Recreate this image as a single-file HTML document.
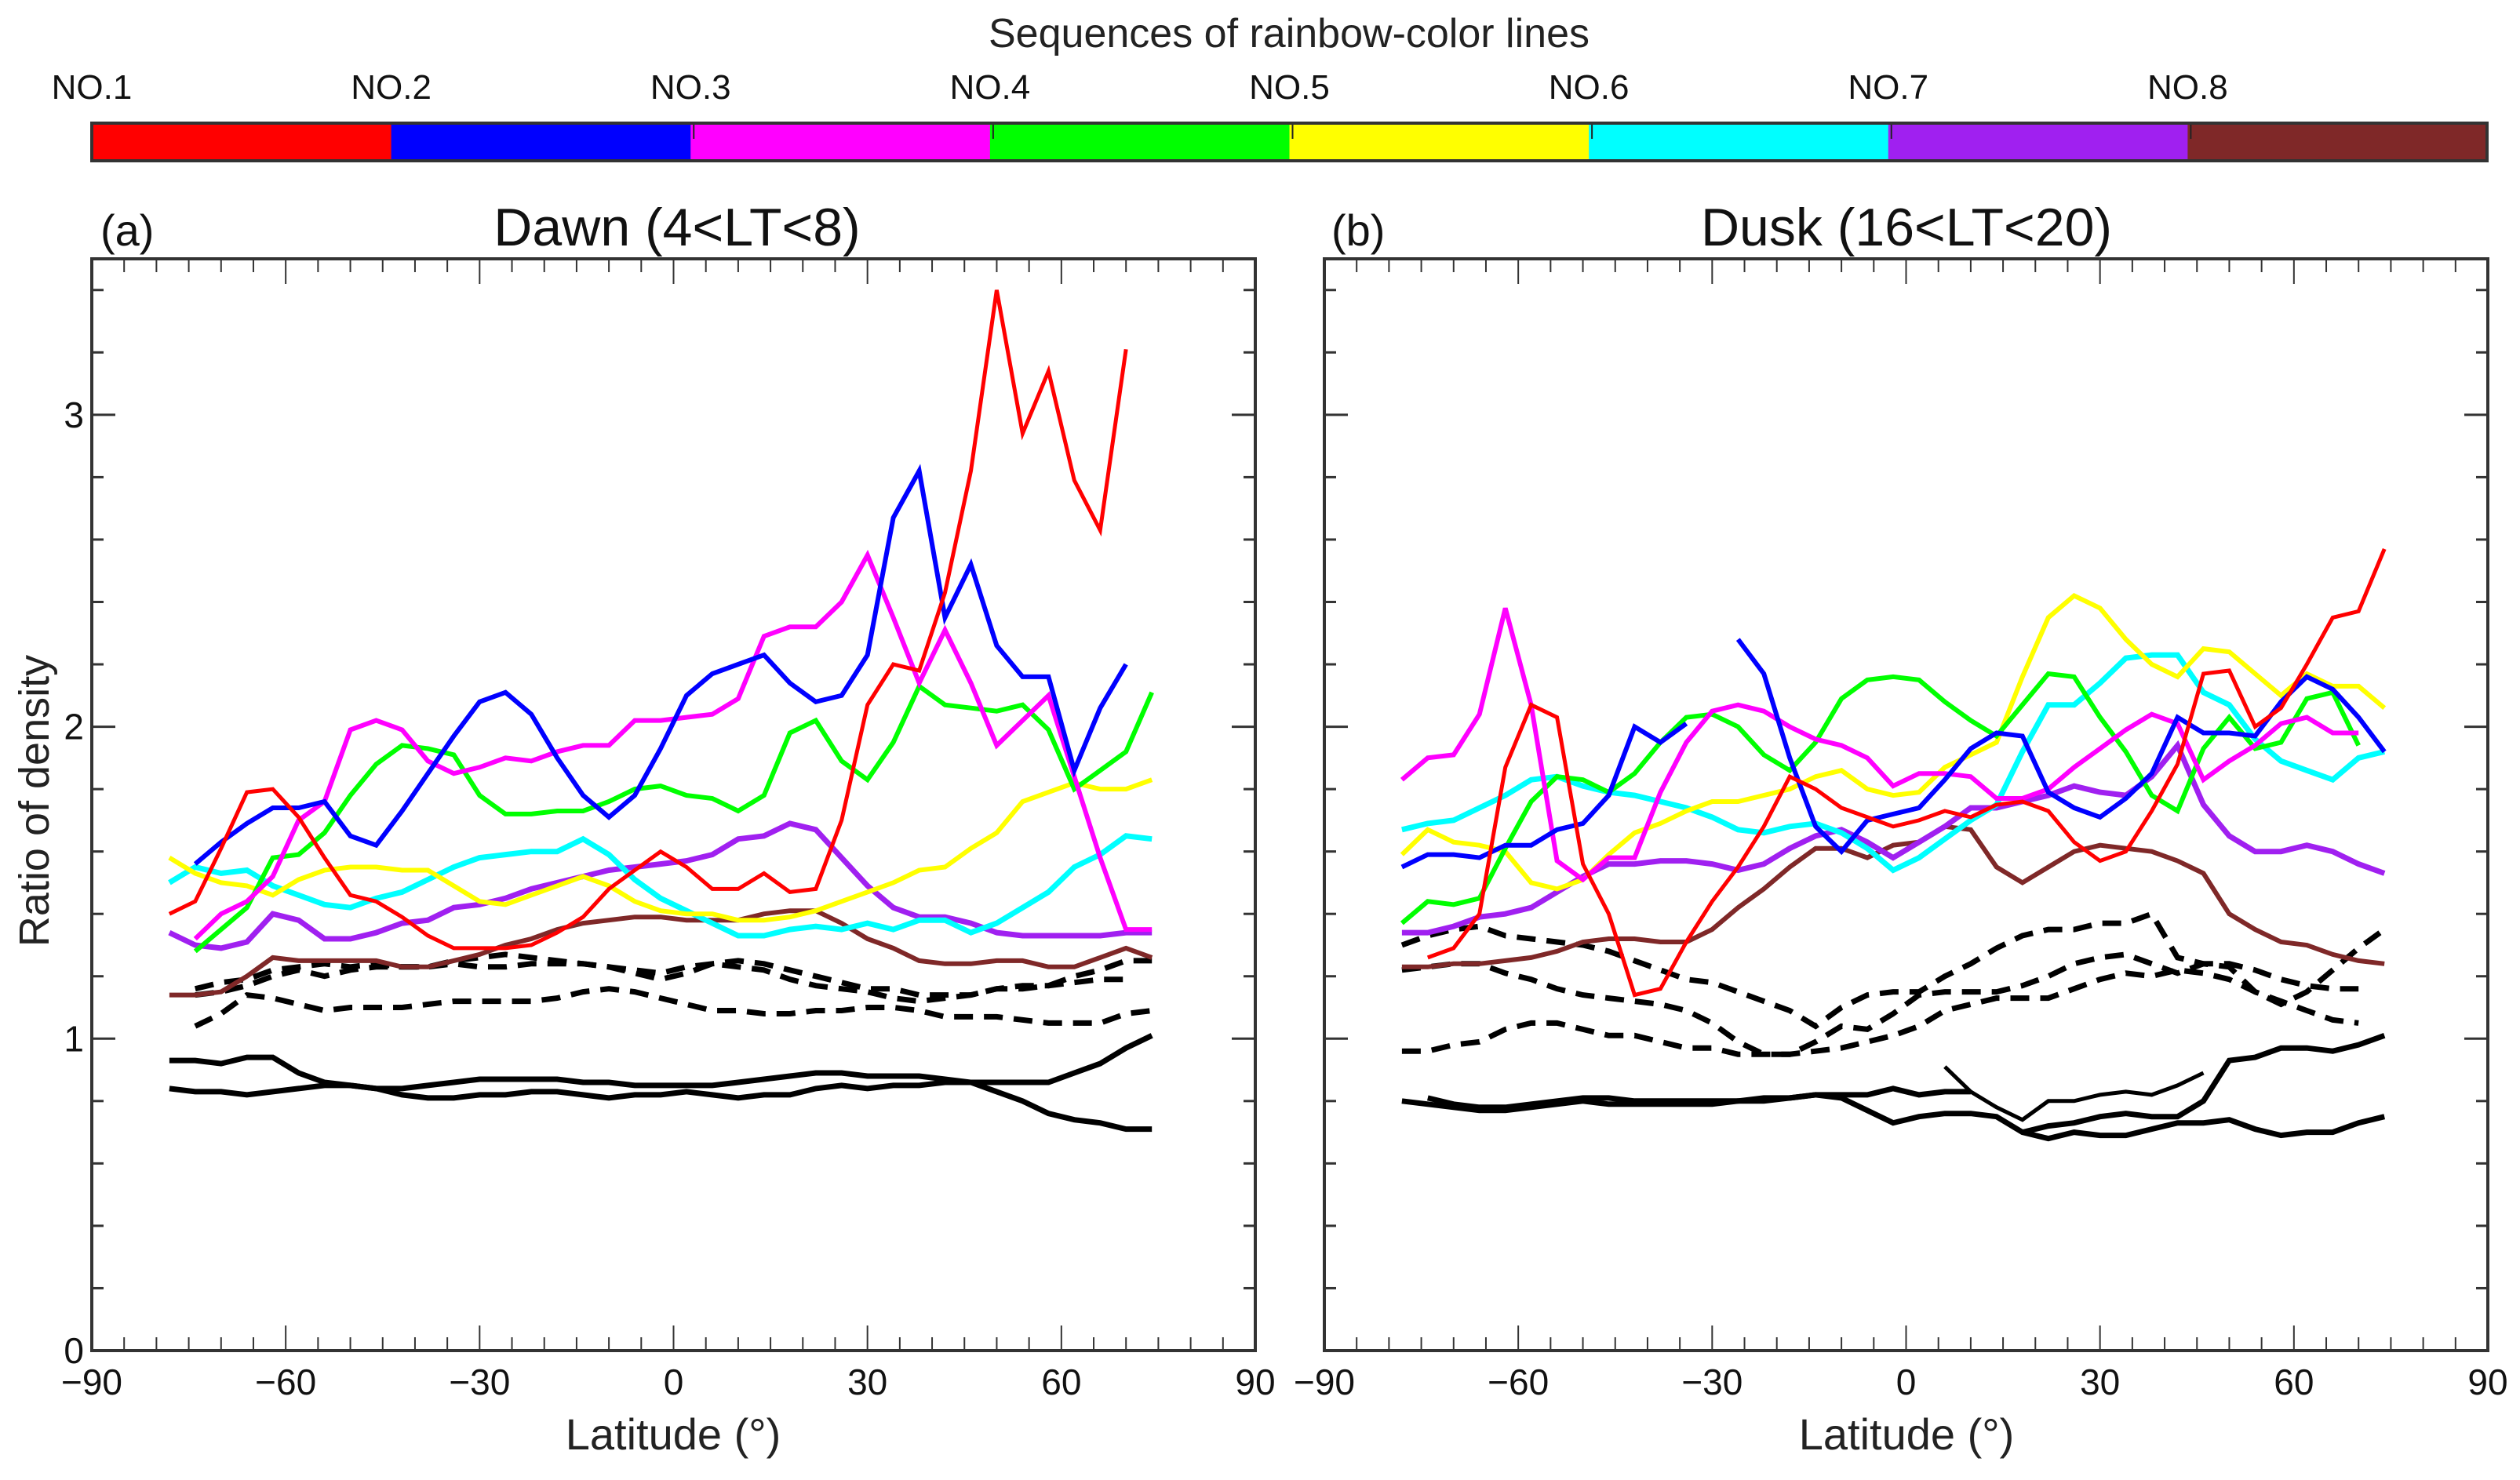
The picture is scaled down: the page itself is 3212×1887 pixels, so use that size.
<!DOCTYPE html>
<html><head><meta charset="utf-8">
<style>
html,body{margin:0;padding:0;background:#fff;}
svg{display:block;font-family:"Liberation Sans",Arial,sans-serif;}
</style></head>
<body>
<svg id="fig" width="3212" height="1887" viewBox="0 0 3212 1887" xmlns="http://www.w3.org/2000/svg">
<rect x="0" y="0" width="3212" height="1887" fill="#fff"/>
<text x="1643" y="60" font-size="52" text-anchor="middle" fill="#222">Sequences of rainbow-color lines</text>
<g id="colorbar"></g>
<g id="panelA"></g>
<g id="panelB"></g>
<text x="128" y="313" font-size="56" fill="#111">(a)</text>
<text x="863" y="313" font-size="68" text-anchor="middle" fill="#111">Dawn (4&lt;LT&lt;8)</text>
<text x="1697" y="313" font-size="56" fill="#111">(b)</text>
<text x="2430" y="313" font-size="68" text-anchor="middle" fill="#111">Dusk (16&lt;LT&lt;20)</text>
<text x="0" y="0" font-size="54" text-anchor="middle" fill="#222" transform="translate(62,1021) rotate(-90)">Ratio of density</text>
<text x="858" y="1848" font-size="56" text-anchor="middle" fill="#222">Latitude (°)</text>
<text x="2430" y="1848" font-size="56" text-anchor="middle" fill="#222">Latitude (°)</text>
</svg>
<script>
const lats=[-78,-74,-70,-66,-62,-58,-54,-50,-46,-42,-38,-34,-30,-26,-22,-18,-14,-10,-6,-2,2,6,10,14,18,22,26,30,34,38,42,46,50,54,58,62,66,70,74];
const xTicks=[-90,-60,-30,0,30,60,90];
const xTickLabels=["\u221290","\u221260","\u221230","0","30","60","90"];
const yTicks=[0,1,2,3];
const yTickLabels=["0","1","2","3"];
const seqLabels=["NO.1","NO.2","NO.3","NO.4","NO.5","NO.6","NO.7","NO.8"];
const seqColors=["#ff0000","#0000ff","#ff00ff","#00ff00","#ffff00","#00ffff","#a020f0","#7f2828"];

// Panel (a) Dawn
const aRed=[1.40,1.44,1.61,1.79,1.80,1.71,1.58,1.46,1.44,1.39,1.33,1.29,1.29,1.29,1.30,1.34,1.39,1.48,1.54,1.60,1.55,1.48,1.48,1.53,1.47,1.48,1.70,2.07,2.20,2.18,2.43,2.82,3.40,2.94,3.14,2.79,2.63,3.21,null];
const aBlue=[null,1.56,1.63,1.69,1.74,1.74,1.76,1.65,1.62,1.73,1.85,1.97,2.08,2.11,2.04,1.90,1.78,1.71,1.78,1.93,2.10,2.17,2.20,2.23,2.14,2.08,2.10,2.23,2.67,2.82,2.35,2.52,2.26,2.16,2.16,1.86,2.06,2.20,null];
const aMagenta=[null,1.32,1.40,1.44,1.52,1.70,1.76,1.99,2.02,1.99,1.89,1.85,1.87,1.90,1.89,1.92,1.94,1.94,2.02,2.02,2.03,2.04,2.09,2.29,2.32,2.32,2.40,2.55,2.35,2.14,2.31,2.14,1.94,2.02,2.10,1.84,1.58,1.35,1.35];
const aGreen=[null,1.28,1.35,1.42,1.58,1.59,1.66,1.78,1.88,1.94,1.93,1.91,1.78,1.72,1.72,1.73,1.73,1.76,1.80,1.81,1.78,1.77,1.73,1.78,1.98,2.02,1.89,1.83,1.95,2.13,2.07,2.06,2.05,2.07,1.99,1.80,1.86,1.92,2.11];
const aYellow=[1.58,1.53,1.50,1.49,1.46,1.51,1.54,1.55,1.55,1.54,1.54,1.49,1.44,1.43,1.46,1.49,1.52,1.49,1.44,1.41,1.40,1.40,1.38,1.38,1.39,1.41,1.44,1.47,1.50,1.54,1.55,1.61,1.66,1.76,1.79,1.82,1.80,1.80,1.83];
const aCyan=[1.50,1.55,1.53,1.54,1.49,1.46,1.43,1.42,1.45,1.47,1.51,1.55,1.58,1.59,1.60,1.60,1.64,1.59,1.51,1.45,1.41,1.37,1.33,1.33,1.35,1.36,1.35,1.37,1.35,1.38,1.38,1.34,1.37,1.42,1.47,1.55,1.59,1.65,1.64];
const aPurple=[1.34,1.30,1.29,1.31,1.40,1.38,1.32,1.32,1.34,1.37,1.38,1.42,1.43,1.45,1.48,1.50,1.52,1.54,1.55,1.56,1.57,1.59,1.64,1.65,1.69,1.67,1.58,1.49,1.42,1.39,1.39,1.37,1.34,1.33,1.33,1.33,1.33,1.34,1.34];
const aBrown=[1.14,1.14,1.15,1.20,1.26,1.25,1.25,1.25,1.25,1.23,1.23,1.25,1.27,1.30,1.32,1.35,1.37,1.38,1.39,1.39,1.38,1.38,1.38,1.40,1.41,1.41,1.37,1.32,1.29,1.25,1.24,1.24,1.25,1.25,1.23,1.23,1.26,1.29,1.26];
const aDash1=[null,1.16,1.18,1.19,1.22,1.23,1.24,1.23,1.24,1.23,1.23,1.25,1.26,1.27,1.26,1.25,1.24,1.23,1.22,1.21,1.23,1.24,1.25,1.24,1.22,1.20,1.18,1.16,1.16,1.14,1.14,1.14,1.16,1.16,1.17,1.20,1.22,1.25,1.25];
const aDash2=[null,1.14,1.15,1.17,1.20,1.22,1.20,1.22,1.23,1.23,1.23,1.24,1.23,1.23,1.24,1.24,1.24,1.23,1.21,1.19,1.21,1.24,1.23,1.22,1.19,1.17,1.16,1.15,1.13,1.12,1.13,1.14,1.16,1.17,1.17,1.18,1.19,1.19,null];
const aDash3=[null,1.04,1.08,1.14,1.13,1.11,1.09,1.10,1.10,1.10,1.11,1.12,1.12,1.12,1.12,1.13,1.15,1.16,1.15,1.13,1.11,1.09,1.09,1.08,1.08,1.09,1.09,1.10,1.10,1.09,1.07,1.07,1.07,1.06,1.05,1.05,1.05,1.08,1.09];
const aSolid1=[0.93,0.93,0.92,0.94,0.94,0.89,0.86,0.85,0.84,0.84,0.85,0.86,0.87,0.87,0.87,0.87,0.86,0.86,0.85,0.85,0.85,0.85,0.86,0.87,0.88,0.89,0.89,0.88,0.88,0.88,0.87,0.86,0.83,0.80,0.76,0.74,0.73,0.71,0.71];
const aSolid2=[0.84,0.83,0.83,0.82,0.83,0.84,0.85,0.85,0.84,0.82,0.81,0.81,0.82,0.82,0.83,0.83,0.82,0.81,0.82,0.82,0.83,0.82,0.81,0.82,0.82,0.84,0.85,0.84,0.85,0.85,0.86,0.86,0.86,0.86,0.86,0.89,0.92,0.97,1.01];

// Panel (b) Dusk
const bRed=[null,1.26,1.29,1.40,1.87,2.07,2.03,1.56,1.40,1.14,1.16,1.31,1.44,1.55,1.68,1.84,1.80,1.74,1.71,1.68,1.70,1.73,1.71,1.75,1.76,1.73,1.63,1.57,1.60,1.73,1.88,2.17,2.18,2.00,2.06,2.20,2.35,2.37,2.57];
const bBlue=[1.55,1.59,1.59,1.58,1.62,1.62,1.67,1.69,1.78,2.00,1.95,2.01,null,2.28,2.17,1.90,1.68,1.60,1.70,1.72,1.74,1.83,1.93,1.98,1.97,1.79,1.74,1.71,1.77,1.85,2.03,1.98,1.98,1.97,2.08,2.16,2.12,2.03,1.92];
const bMagenta=[1.83,1.90,1.91,2.04,2.38,2.07,1.57,1.51,1.58,1.58,1.79,1.95,2.05,2.07,2.05,2.00,1.96,1.94,1.90,1.81,1.85,1.85,1.84,1.77,1.77,1.80,1.87,1.93,1.99,2.04,2.01,1.83,1.89,1.94,2.01,2.03,1.98,1.98,null];
const bGreen=[1.37,1.44,1.43,1.45,1.61,1.76,1.84,1.83,1.79,1.85,1.95,2.03,2.04,2.00,1.91,1.86,1.95,2.09,2.15,2.16,2.15,2.08,2.02,1.97,2.07,2.17,2.16,2.03,1.92,1.78,1.73,1.93,2.03,1.93,1.95,2.09,2.11,1.94,null];
const bYellow=[1.59,1.67,1.63,1.62,1.60,1.50,1.48,1.51,1.59,1.66,1.69,1.73,1.76,1.76,1.78,1.80,1.84,1.86,1.80,1.78,1.79,1.87,1.91,1.95,2.16,2.35,2.42,2.38,2.28,2.20,2.16,2.25,2.24,2.17,2.10,2.17,2.13,2.13,2.06];
const bCyan=[1.67,1.69,1.70,1.74,1.78,1.83,1.84,1.81,1.79,1.78,1.76,1.74,1.71,1.67,1.66,1.68,1.69,1.66,1.61,1.54,1.58,1.64,1.70,1.75,1.92,2.07,2.07,2.14,2.22,2.23,2.23,2.11,2.07,1.96,1.89,1.86,1.83,1.90,1.92];
const bPurple=[1.34,1.34,1.36,1.39,1.40,1.42,1.47,1.52,1.56,1.56,1.57,1.57,1.56,1.54,1.56,1.61,1.65,1.67,1.63,1.58,1.63,1.68,1.74,1.74,1.76,1.78,1.81,1.79,1.78,1.84,1.94,1.75,1.65,1.60,1.60,1.62,1.60,1.56,1.53];
const bBrown=[1.23,1.23,1.24,1.24,1.25,1.26,1.28,1.31,1.32,1.32,1.31,1.31,1.35,1.42,1.48,1.55,1.61,1.61,1.58,1.62,1.63,1.68,1.67,1.55,1.50,1.55,1.60,1.62,1.61,1.60,1.57,1.53,1.40,1.35,1.31,1.30,1.27,1.25,1.24];
const bDash1=[1.30,1.33,1.35,1.36,1.33,1.32,1.31,1.30,1.28,1.25,1.22,1.19,1.18,1.15,1.12,1.09,1.04,1.10,1.14,1.15,1.15,1.20,1.24,1.29,1.33,1.35,1.35,1.37,1.37,1.40,1.26,1.24,1.24,1.22,1.19,1.17,1.16,1.16,null];
const bDash2=[1.22,1.23,1.24,1.24,1.21,1.19,1.16,1.14,1.13,1.12,1.11,1.09,1.05,0.99,0.95,0.95,0.99,1.04,1.03,1.08,1.14,1.15,1.15,1.15,1.17,1.20,1.24,1.26,1.27,1.24,1.21,1.24,1.23,1.15,1.11,1.15,1.22,1.29,1.35];
const bDash3=[0.96,0.96,0.98,0.99,1.03,1.05,1.05,1.03,1.01,1.01,0.99,0.97,0.97,0.95,0.95,0.95,0.96,0.97,0.99,1.01,1.04,1.09,1.11,1.13,1.13,1.13,1.16,1.19,1.21,1.20,1.22,1.21,1.19,1.15,1.12,1.09,1.06,1.05,null];
const bSolid1=[0.80,0.79,0.78,0.77,0.77,0.78,0.79,0.80,0.79,0.79,0.79,0.79,0.79,0.80,0.80,0.81,0.82,0.81,0.77,0.73,0.75,0.76,0.76,0.75,0.70,0.68,0.70,0.69,0.69,0.71,0.73,0.73,0.74,0.71,0.69,0.70,0.70,0.73,0.75];
const bSolid2=[null,0.81,0.79,0.78,0.78,0.79,0.80,0.81,0.81,0.80,0.80,0.80,0.80,0.80,0.81,0.81,0.82,0.82,0.82,0.84,0.82,0.83,0.83,null,null,null,null,null,null,null,null,null,null,null,null,null,null,null,null];
const bSolid3=[null,null,null,null,null,null,null,null,null,null,null,null,null,null,null,null,null,null,null,null,null,0.91,0.83,0.78,0.74,0.80,0.80,0.82,0.83,0.82,0.85,0.89,null,null,null,null,null,null,null];
const bSolid4=[null,null,null,null,null,null,null,null,null,null,null,null,null,null,null,null,null,null,null,null,null,null,null,null,0.70,0.72,0.73,0.75,0.76,0.75,0.75,0.80,0.93,0.94,0.97,0.97,0.96,0.98,1.01];

const NS="http://www.w3.org/2000/svg";
function mk(tag,attrs,parent){const e=document.createElementNS(NS,tag);for(const k in attrs)e.setAttribute(k,attrs[k]);parent.appendChild(e);return e;}

const PT=330,PB=1722,YMAX=3.5;
function yScale(v){return PB-(v/YMAX)*(PB-PT);}
function xScaleFor(x0,x1){return function(l){return x0+(l+90)/180*(x1-x0);};}

// Colorbar
const cb=document.getElementById('colorbar');
const CB0=117,CB1=3170,CBT=157,CBB=205;
const segW=(CB1-CB0)/seqColors.length;
seqColors.forEach(function(c,i){
  const r=mk('rect',{x:CB0+i*segW,y:CBT,width:segW+0.5,height:CBB-CBT,fill:c},cb);
  
  
  const t=mk('text',{x:CB0+i*segW,y:126,'font-size':44,'text-anchor':'middle',fill:'#111'},cb);
  t.textContent=seqLabels[i];
  
  
  if(i>1){const tk=mk('line',{x1:CB0+i*segW+4,x2:CB0+i*segW+4,y1:CBT,y2:CBT+20,stroke:'#222','stroke-width':2},cb);
    
    }
});
const cbb=mk('rect',{x:CB0,y:CBT,width:CB1-CB0,height:CBB-CBT,fill:'none',stroke:'#333','stroke-width':4},cb);



function drawPanel(g,x0,x1,series,showY){
  const xs=xScaleFor(x0,x1);
  series.forEach(function(s){
    let segs=[],cur=[];
    s.data.forEach(function(v,i){
      if(v===null){if(cur.length)segs.push(cur);cur=[];}
      else cur.push(xs(lats[i]).toFixed(1)+','+yScale(v).toFixed(1));
    });
    if(cur.length)segs.push(cur);
    segs.forEach(function(pts){
      const p=mk('polyline',{points:pts.join(' '),fill:'none',stroke:s.color,'stroke-width':s.w,'stroke-linejoin':'miter','stroke-linecap':'butt'},g);
      if(s.dash)p.setAttribute('stroke-dasharray',s.dash);
      
      
    });
  });
  for(let l=-90;l<=90;l+=5){
    const major=(l%30===0);
    const len=major?32:17;
    const X=xs(l);
    const t1=mk('line',{x1:X,x2:X,y1:PB,y2:PB-len,stroke:'#333','stroke-width':2},g);
    
    
    const t2=mk('line',{x1:X,x2:X,y1:PT,y2:PT+len,stroke:'#333','stroke-width':2},g);
    
    
  }
  xTicks.forEach(function(l,i){
    const t=mk('text',{x:xs(l),y:1778,'font-size':46,'text-anchor':'middle',fill:'#111'},g);
    t.textContent=xTickLabels[i];
    
    
  });
  for(let k=1;k<=17;k++){
    const v=k*0.2;
    const major=(k%5===0);
    const len=major?30:15;
    const Y=yScale(v);
    const t1=mk('line',{x1:x0,x2:x0+len,y1:Y,y2:Y,stroke:'#333','stroke-width':3},g);
    
    
    const t2=mk('line',{x1:x1,x2:x1-len,y1:Y,y2:Y,stroke:'#333','stroke-width':3},g);
    
    
  }
  if(showY){
    yTicks.forEach(function(v,i){
      const t=mk('text',{x:x0-10,y:yScale(v)+16,'font-size':46,'text-anchor':'end',fill:'#111'},g);
      t.textContent=yTickLabels[i];
      
      
    });
  }
  const fr=mk('rect',{x:x0,y:PT,width:x1-x0,height:PB-PT,fill:'none',stroke:'#333','stroke-width':4},g);
  
  
}

const DASH='24 14';
drawPanel(document.getElementById('panelA'),117,1600,[
  {name:'dawn-black-solid-1',data:aSolid1,color:'#000',w:7},
  {name:'dawn-black-solid-2',data:aSolid2,color:'#000',w:7},
  {name:'dawn-black-dashed-1',data:aDash1,color:'#000',w:7,dash:DASH},
  {name:'dawn-black-dashed-2',data:aDash2,color:'#000',w:7,dash:DASH},
  {name:'dawn-black-dashed-3',data:aDash3,color:'#000',w:7,dash:DASH},
  {name:'dawn-no8-brown',data:aBrown,color:seqColors[7],w:6},
  {name:'dawn-no7-purple',data:aPurple,color:seqColors[6],w:7},
  {name:'dawn-no6-cyan',data:aCyan,color:seqColors[5],w:7},
  {name:'dawn-no5-yellow',data:aYellow,color:seqColors[4],w:6},
  {name:'dawn-no4-green',data:aGreen,color:seqColors[3],w:6},
  {name:'dawn-no3-magenta',data:aMagenta,color:seqColors[2],w:6},
  {name:'dawn-no2-blue',data:aBlue,color:seqColors[1],w:6},
  {name:'dawn-no1-red',data:aRed,color:seqColors[0],w:5}
],true);
drawPanel(document.getElementById('panelB'),1688,3171,[
  {name:'dusk-black-solid-1',data:bSolid1,color:'#000',w:7},
  {name:'dusk-black-solid-2',data:bSolid2,color:'#000',w:7},
  {name:'dusk-black-solid-3',data:bSolid3,color:'#000',w:5},
  {name:'dusk-black-solid-4',data:bSolid4,color:'#000',w:7},
  {name:'dusk-black-dashed-1',data:bDash1,color:'#000',w:7,dash:DASH},
  {name:'dusk-black-dashed-2',data:bDash2,color:'#000',w:7,dash:DASH},
  {name:'dusk-black-dashed-3',data:bDash3,color:'#000',w:7,dash:DASH},
  {name:'dusk-no8-brown',data:bBrown,color:seqColors[7],w:6},
  {name:'dusk-no7-purple',data:bPurple,color:seqColors[6],w:7},
  {name:'dusk-no6-cyan',data:bCyan,color:seqColors[5],w:7},
  {name:'dusk-no5-yellow',data:bYellow,color:seqColors[4],w:6},
  {name:'dusk-no4-green',data:bGreen,color:seqColors[3],w:6},
  {name:'dusk-no3-magenta',data:bMagenta,color:seqColors[2],w:6},
  {name:'dusk-no2-blue',data:bBlue,color:seqColors[1],w:6},
  {name:'dusk-no1-red',data:bRed,color:seqColors[0],w:5}
],false);
</script>
</body></html>
